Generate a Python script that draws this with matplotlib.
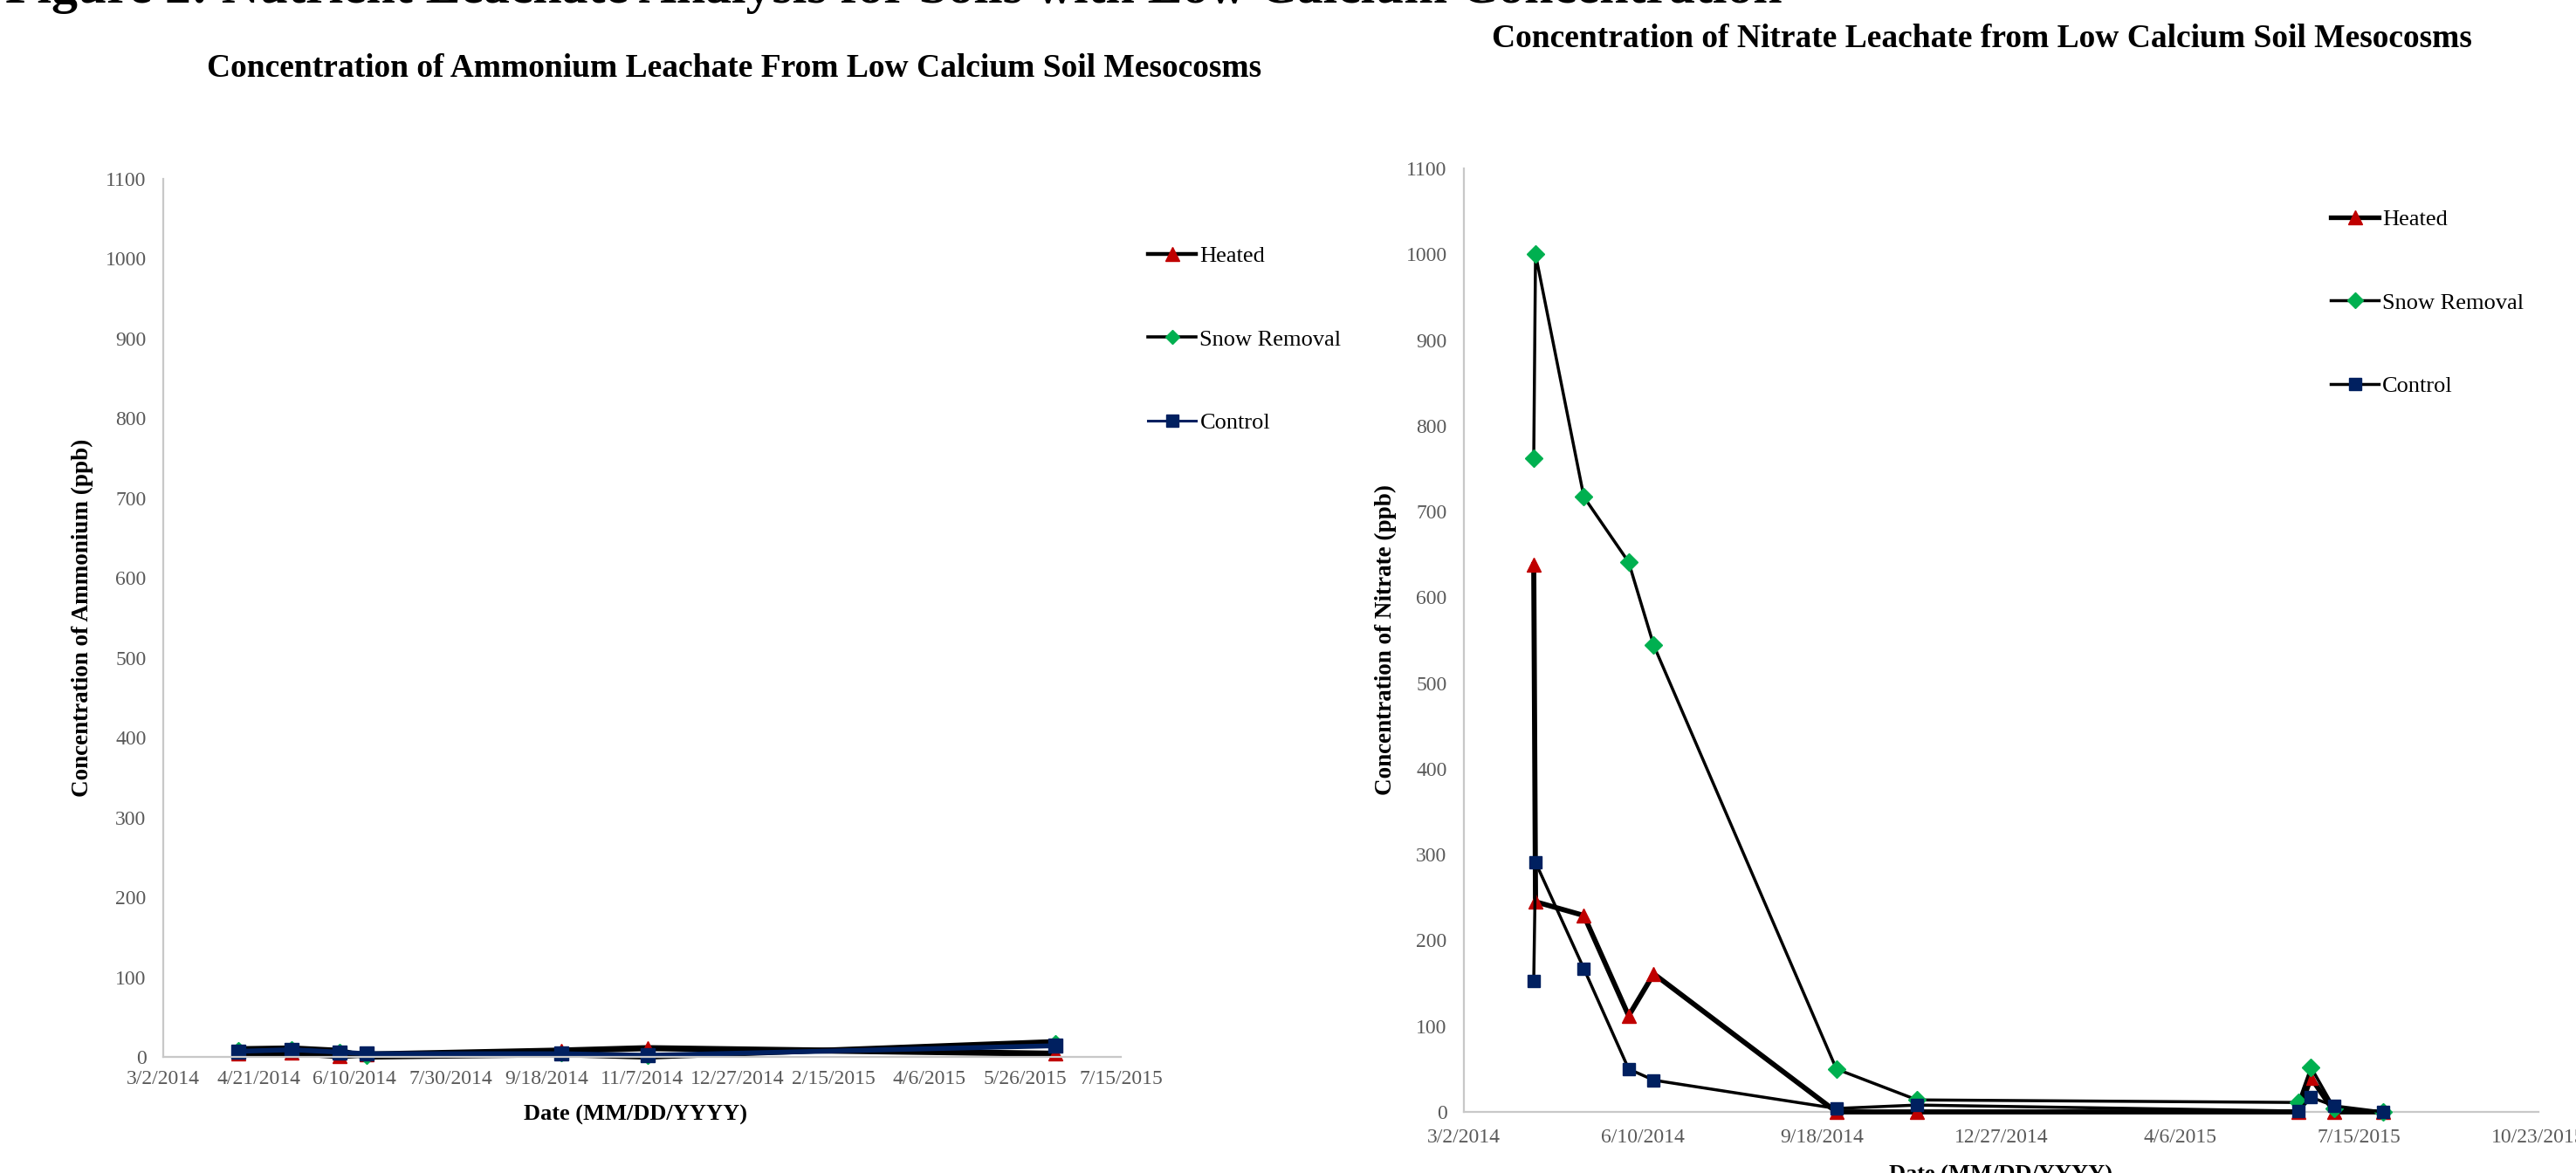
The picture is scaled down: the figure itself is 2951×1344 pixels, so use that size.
import matplotlib
matplotlib.use('Agg')
import matplotlib.pyplot as plt
import matplotlib.dates as mdates
import matplotlib.ticker as mticker
from matplotlib.lines import Line2D
import pandas as pd

plt.rcParams['font.family'] = ['Liberation Serif', 'DejaVu Serif']

# ── data: ammonium (ppb) ────────────────────────────────────────────
nh4_dates = ['2014-04-10', '2014-05-08', '2014-06-02', '2014-06-16',
             '2014-09-26', '2014-11-10', '2015-06-11']
nh4_heated = [4, 5, 1, 3, 8, 11, 4]
nh4_snow = [10, 11, 8, 0, 3, 0, 19]
nh4_control = [7, 9, 6, 4, 4, 2, 14]

# ── data: nitrate (ppb) ─────────────────────────────────────────────
no3_dates = ['2014-04-10', '2014-04-11', '2014-05-08', '2014-06-02',
             '2014-06-16', '2014-09-26', '2014-11-10', '2015-06-11',
             '2015-06-18', '2015-07-01', '2015-07-28']
no3_heated = [638, 245, 229, 112, 161, 0, 0, 0, 40, 0, 0]
no3_snow = [762, 1000, 717, 641, 544, 50, 14, 11, 52, 4, 0]
no3_control = [153, 291, 167, 50, 37, 4, 8, 1, 17, 7, 0]

series_names = ['Heated', 'Snow Removal', 'Control']

RED = '#C00000'
GREEN = '#00B050'
NAVY = '#002060'
GRAY_TXT = '#595959'
AXIS_GRAY = '#C8C8C8'

W, H = 2951, 1344
fig = plt.figure(figsize=(W / 100, H / 100), dpi=100)
fig.patch.set_facecolor('white')


def px_axes(x0, y0, x1, y1):
    return fig.add_axes([x0 / W, 1 - y1 / H, (x1 - x0) / W, (y1 - y0) / H])


def date_fmt(x, pos=None):
    d = mdates.num2date(x)
    return f'{d.month}/{d.day}/{d.year}'


def style_axes(ax, start, end, step, pad_x):
    ax.set_xlim(pd.Timestamp(start), pd.Timestamp(end))
    ax.set_ylim(0, 1100)
    ticks = pd.date_range(start, end, freq=f'{step}D')
    ax.xaxis.set_major_locator(mticker.FixedLocator(mdates.date2num(ticks)))
    ax.xaxis.set_major_formatter(mticker.FuncFormatter(date_fmt))
    ax.yaxis.set_major_locator(mticker.MultipleLocator(100))
    for s in ['top', 'right']:
        ax.spines[s].set_visible(False)
    for s in ['left', 'bottom']:
        ax.spines[s].set_color(AXIS_GRAY)
        ax.spines[s].set_linewidth(1.6)
    ax.tick_params(axis='both', length=0, labelsize=17, labelcolor=GRAY_TXT)
    ax.tick_params(axis='x', pad=pad_x)
    ax.tick_params(axis='y', pad=14)
    ax.set_facecolor('none')


def add_legend(ax, handles, x, y):
    ax.legend(handles, series_names, loc='upper left',
              bbox_to_anchor=(x / W, 1 - y / H), bbox_transform=fig.transFigure,
              frameon=False, fontsize=19, handlelength=2.1, handletextpad=0.15,
              labelspacing=2.72, borderpad=0, borderaxespad=0, numpoints=1)


# ── left: ammonium ──────────────────────────────────────────────────
ax1 = px_axes(187, 205, 1284, 1211)
d1 = pd.to_datetime(nh4_dates)
ax1.plot(d1, nh4_heated, color='black', lw=5, marker='^', ms=12,
         mfc=RED, mec=RED, clip_on=False)
ax1.plot(d1, nh4_snow, color='black', lw=4.5, marker='D', ms=8,
         mfc=GREEN, mec=GREEN, clip_on=False)
ax1.plot(d1, nh4_control, color=NAVY, lw=4, marker='s', ms=11,
         mfc=NAVY, mec=NAVY, clip_on=False)
style_axes(ax1, '2014-03-02', '2015-07-15', 50, 11)

add_legend(ax1, [
    Line2D([], [], color='black', lw=3.2, marker='^', ms=12, mfc=RED, mec=RED),
    Line2D([], [], color='black', lw=2.6, marker='D', ms=8, mfc=GREEN, mec=GREEN),
    Line2D([], [], color=NAVY, lw=2.2, marker='s', ms=10, mfc=NAVY, mec=NAVY),
], 1315, 282)

# ── right: nitrate ──────────────────────────────────────────────────
ax2 = px_axes(1677, 193, 2908, 1274)
d2 = pd.to_datetime(no3_dates)
ax2.plot(d2, no3_heated, color='black', lw=4.2, marker='^', ms=12,
         mfc=RED, mec=RED, clip_on=False, zorder=3)
ax2.plot(d2, no3_snow, color='black', lw=2.5, marker='D', ms=10,
         mfc=GREEN, mec=GREEN, clip_on=False, zorder=3)
ax2.plot(d2, no3_control, color='black', lw=2.5, marker='s', ms=10,
         mfc=NAVY, mec=NAVY, clip_on=False, zorder=4)
style_axes(ax2, '2014-03-02', '2015-10-23', 100, 14)

add_legend(ax2, [
    Line2D([], [], color='black', lw=3.8, marker='^', ms=12, mfc=RED, mec=RED),
    Line2D([], [], color='black', lw=2.5, marker='D', ms=9, mfc=GREEN, mec=GREEN),
    Line2D([], [], color='black', lw=2.5, marker='s', ms=10, mfc=NAVY, mec=NAVY),
], 2670, 240)

# ── titles and axis labels ──────────────────────────────────────────
fig.text(6 / W, 1 - 3 / H,
         'Figure 2: Nutrient Leachate Analysis for Soils with Low Calcium Concentration',
         ha='left', va='baseline', fontsize=43, fontweight='bold')
fig.text(841 / W, 1 - 79 / H,
         'Concentration of Ammonium Leachate From Low Calcium Soil Mesocosms',
         ha='center', va='center', fontsize=27, fontweight='bold')
fig.text(2270 / W, 1 - 45 / H,
         'Concentration of Nitrate Leachate from Low Calcium Soil Mesocosms',
         ha='center', va='center', fontsize=27, fontweight='bold')

fig.text(94 / W, 1 - 708 / H, 'Concentration of Ammonium (ppb)',
         rotation=90, ha='center', va='center', fontsize=19.5, fontweight='bold')
fig.text(1587 / W, 1 - 733 / H, 'Concentration of Nitrate (ppb)',
         rotation=90, ha='center', va='center', fontsize=19.5, fontweight='bold')
fig.text(728 / W, 1 - 1277 / H, 'Date (MM/DD/YYYY)',
         ha='center', va='center', fontsize=19, fontweight='bold')
fig.text(2292 / W, 1 - 1346 / H, 'Date (MM/DD/YYYY)',
         ha='center', va='center', fontsize=19, fontweight='bold')

fig.savefig('out.png', dpi=100, facecolor='white')
